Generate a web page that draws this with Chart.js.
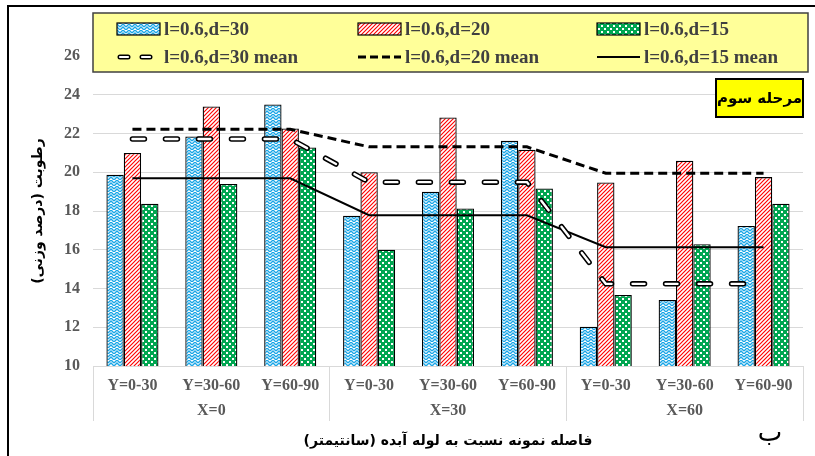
<!DOCTYPE html>
<html>
<head>
<meta charset="utf-8">
<script src="https://cdn.jsdelivr.net/npm/chart.js@4.4.0/dist/chart.umd.min.js"></script>
<style>
    html, body { margin: 0; padding: 0; background: #fff; }
    #wrap { width: 815px; height: 456px; position: relative; }
</style>
</head>
<body>
<div id="wrap"><canvas id="chart" width="815" height="456"></canvas></div>
<script>
// ── Data ─────────────────────────────────────────────────────────
const categories = ['Y=0-30', 'Y=30-60', 'Y=60-90',
                    'Y=0-30', 'Y=30-60', 'Y=60-90',
                    'Y=0-30', 'Y=30-60', 'Y=60-90'];
const groups = ['X=0', 'X=30', 'X=60'];

const d30 = [19.87, 21.85, 23.5, 17.76, 19.0, 21.62, 12.03, 13.41, 17.23];
const d20 = [21.0, 23.4, 22.26, 20.0, 22.83, 21.16, 19.47, 20.6, 19.75];
const d15 = [18.37, 19.4, 21.28, 16.0, 18.13, 19.16, 13.67, 16.29, 18.38];

const d30Mean = [21.72, 21.72, 21.72, 19.49, 19.49, 19.49, 14.24, 14.24, 14.24];
const d20Mean = [22.22, 22.22, 22.22, 21.31, 21.31, 21.31, 19.95, 19.95, 19.95];
const d15Mean = [19.69, 19.69, 19.69, 17.78, 17.78, 17.78, 16.13, 16.13, 16.13];

const seriesLabels = ['l=0.6,d=30', 'l=0.6,d=20', 'l=0.6,d=15',
                      'l=0.6,d=30 mean', 'l=0.6,d=20 mean', 'l=0.6,d=15 mean'];

const yTitle = '\u200Fرطوبت (درصد وزنی)\u200F';
const xTitle = '\u200Fفاصله نمونه نسبت به لوله آبده (سانتیمتر)\u200F';
const stageLabel = 'مرحله سوم';
const panelLetter = 'ب';

// ── Styles ───────────────────────────────────────────────────────
const SERIF   = "'Liberation Serif', 'Times New Roman', serif";
const PERSIAN = "'DejaVu Sans', sans-serif";
const TICK_COLOR = '#595959';
const GRID_COLOR = '#d9d9d9';

// ── Hatch patterns ───────────────────────────────────────────────
function makePattern(w, h, paint) {
    const c = document.createElement('canvas');
    c.width = w;
    c.height = h;
    const g = c.getContext('2d');
    paint(g, w, h);
    return g.createPattern(c, 'repeat');
}

const bluePattern = makePattern(6, 6, (g, w, h) => {
    g.fillStyle = '#ffffff';
    g.fillRect(0, 0, w, h);
    g.strokeStyle = '#19a5e6';
    g.lineWidth = 1.4;
    g.beginPath();
    g.moveTo(0, 3); g.lineTo(3, 0); g.lineTo(6, 3);
    g.moveTo(0, 6); g.lineTo(3, 3); g.lineTo(6, 6);
    g.stroke();
});

const redPattern = makePattern(4, 4, (g, w, h) => {
    g.fillStyle = '#ffffff';
    g.fillRect(0, 0, w, h);
    g.strokeStyle = '#ff0000';
    g.lineWidth = 1.15;
    g.beginPath();
    g.moveTo(0, 4); g.lineTo(4, 0);
    g.moveTo(-1, 1); g.lineTo(1, -1);
    g.moveTo(3, 5); g.lineTo(5, 3);
    g.stroke();
});

const greenPattern = makePattern(6, 6, (g, w, h) => {
    g.fillStyle = '#00a651';
    g.fillRect(0, 0, w, h);
    g.fillStyle = '#ffffff';
    g.fillRect(1, 1, 2, 2);
    g.fillRect(4, 4, 2, 2);
});

// ── Legend, frame and notes ──────────────────────────────────────
const decorPlugin = {
    id: 'decor',
    afterDraw(chart) {
        const ctx = chart.ctx;
        ctx.save();

        // frame (top + left edge of the original figure)
        ctx.strokeStyle = '#000';
        ctx.lineWidth = 2;
        ctx.beginPath();
        ctx.moveTo(8, 456); ctx.lineTo(8, 6); ctx.lineTo(815, 6);
        ctx.stroke();

        // legend box
        ctx.fillStyle = '#ffff99';
        ctx.fillRect(93, 13, 715, 59);
        ctx.strokeStyle = '#404040';
        ctx.lineWidth = 1.5;
        ctx.strokeRect(93, 13, 715, 59);

        const cols = [117, 358, 597];
        const rows = [29, 57];
        const fills = [bluePattern, redPattern, greenPattern];

        ctx.font = `bold 19px ${SERIF}`;
        ctx.textBaseline = 'middle';
        ctx.textAlign = 'left';

        for (let i = 0; i < 3; i++) {
            const x = cols[i], y = rows[0];
            ctx.fillStyle = fills[i];
            ctx.fillRect(x, y - 6, 43, 12);
            ctx.strokeStyle = '#000';
            ctx.lineWidth = 1.2;
            ctx.strokeRect(x, y - 6, 43, 12);
            ctx.fillStyle = '#404040';
            ctx.fillText(seriesLabels[i], x + 47, y + 1);
        }

        // mean markers
        const y2 = rows[1];
        ctx.lineCap = 'round';
        ctx.setLineDash([8, 14]);
        ctx.strokeStyle = '#000';
        ctx.lineWidth = 5;
        ctx.beginPath(); ctx.moveTo(cols[0] + 3, y2); ctx.lineTo(cols[0] + 33, y2); ctx.stroke();
        ctx.strokeStyle = '#fff';
        ctx.lineWidth = 2.2;
        ctx.beginPath(); ctx.moveTo(cols[0] + 3, y2); ctx.lineTo(cols[0] + 33, y2); ctx.stroke();

        ctx.lineCap = 'butt';
        ctx.strokeStyle = '#000';
        ctx.setLineDash([8, 4]);
        ctx.lineWidth = 3;
        ctx.beginPath(); ctx.moveTo(cols[1], y2); ctx.lineTo(cols[1] + 43, y2); ctx.stroke();

        ctx.setLineDash([]);
        ctx.lineWidth = 2;
        ctx.beginPath(); ctx.moveTo(cols[2], y2); ctx.lineTo(cols[2] + 43, y2); ctx.stroke();

        ctx.fillStyle = '#404040';
        for (let i = 0; i < 3; i++) {
            ctx.fillText(seriesLabels[i + 3], cols[i] + 47, y2 + 1);
        }

        // stage note
        ctx.fillStyle = '#ffff00';
        ctx.fillRect(716, 79, 87, 38);
        ctx.strokeStyle = '#000';
        ctx.lineWidth = 2;
        ctx.strokeRect(716, 79, 87, 38);
        ctx.fillStyle = '#000';
        ctx.font = `bold 15px ${PERSIAN}`;
        ctx.textAlign = 'center';
        ctx.fillText(stageLabel, 759.5, 99);

        // panel letter
        ctx.font = `26px ${PERSIAN}`;
        ctx.fillText(panelLetter, 770, 434);

        ctx.restore();
    }
};

// ── Chart ────────────────────────────────────────────────────────
function barSet(label, data, fill) {
    return {
        type: 'bar',
        label,
        data,
        backgroundColor: fill,
        borderColor: '#000',
        borderWidth: 1.3,
        borderSkipped: false,
        categoryPercentage: 0.66,
        barPercentage: 1.0,
        order: 1
    };
}

function lineSet(label, data, color, width, dash, cap, order) {
    return {
        type: 'line',
        label,
        data,
        borderColor: color,
        borderWidth: width,
        borderDash: dash,
        borderCapStyle: cap || 'butt',
        pointRadius: 0,
        fill: false,
        tension: 0,
        order: order === undefined ? 0 : order
    };
}

const tickFont = { family: SERIF, size: 16, weight: 'bold' };

new Chart(document.getElementById('chart'), {
    data: {
        labels: categories,
        datasets: [
            barSet(seriesLabels[0], d30, bluePattern),
            barSet(seriesLabels[1], d20, redPattern),
            barSet(seriesLabels[2], d15, greenPattern),
            // outlined dash = black stroke with a white core on top
            lineSet(seriesLabels[3], d30Mean, '#000', 5.5, [12, 21], 'round', 0),
            lineSet(seriesLabels[3], d30Mean, '#fff', 2.4, [12, 21], 'round', -1),
            lineSet(seriesLabels[4], d20Mean, '#000', 3, [9, 5]),
            lineSet(seriesLabels[5], d15Mean, '#000', 2, [])
        ]
    },
    options: {
        responsive: false,
        animation: false,
        devicePixelRatio: 1,
        layout: { padding: { top: 56, left: 10, right: 12, bottom: 0 } },
        plugins: {
            legend: { display: false },
            tooltip: { enabled: false }
        },
        scales: {
            x: {
                offset: true,
                grid: {
                    display: true,
                    drawOnChartArea: false,
                    offset: true,
                    tickLength: 55,
                    lineWidth: 1,
                    color: ctx => (ctx.index === undefined || ctx.index % 3 === 0) ? GRID_COLOR : 'rgba(0,0,0,0)'
                },
                border: { display: true, color: GRID_COLOR },
                ticks: { color: TICK_COLOR, font: tickFont, padding: -45, autoSkip: false, maxRotation: 0 },
                afterFit(s) { s.height = 27; }
            },
            x2: {
                type: 'category',
                labels: groups,
                position: 'bottom',
                offset: true,
                grid: { display: false, drawTicks: false },
                border: { display: false },
                ticks: { color: TICK_COLOR, font: tickFont, padding: 8, autoSkip: false, maxRotation: 0 },
                title: {
                    display: true,
                    text: xTitle,
                    color: '#000',
                    font: { family: PERSIAN, size: 14, weight: 'bold' },
                    padding: { top: 0, bottom: 6 }
                },
                afterFit(s) { s.height = 63; }
            },
            y: {
                min: 10,
                max: 26,
                ticks: { stepSize: 2, color: TICK_COLOR, font: tickFont, padding: 13 },
                grid: { color: GRID_COLOR, drawTicks: false },
                border: { display: false },
                title: {
                    display: true,
                    text: yTitle,
                    color: '#000',
                    font: { family: PERSIAN, size: 14, weight: 'bold' },
                    padding: { top: 20, bottom: 0 }
                },
                afterFit(s) { s.width = 83; }
            }
        }
    },
    plugins: [decorPlugin]
});
</script>
</body>
</html>
